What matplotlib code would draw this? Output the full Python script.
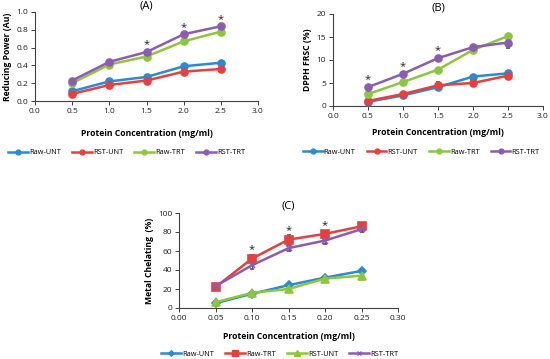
import matplotlib.pyplot as plt
from matplotlib.lines import Line2D

plt.rcParams['font.family'] = ['Open Sans', 'DejaVu Sans']

# panel A: reducing power
conc_ab = [0.5, 1.0, 1.5, 2.0, 2.5]
a_raw_unt = [0.11, 0.22, 0.27, 0.39, 0.43]
a_rst_unt = [0.08, 0.18, 0.23, 0.33, 0.36]
a_raw_trt = [0.20, 0.41, 0.50, 0.67, 0.78]
a_rst_trt = [0.23, 0.44, 0.55, 0.75, 0.84]
a_err_raw_unt = [0.01, 0.01, 0.01, 0.01, 0.01]
a_err_rst_unt = [0.01, 0.01, 0.01, 0.01, 0.03]
a_err_raw_trt = [0.01, 0.01, 0.01, 0.01, 0.01]
a_err_rst_trt = [0.01, 0.01, 0.01, 0.01, 0.01]
a_star_x = [1.5, 2.0, 2.5]
a_star_y = [0.63, 0.83, 0.92]

# panel B: DPPH FRSC
b_raw_unt = [0.9, 2.3, 4.1, 6.4, 7.1]
b_rst_unt = [1.1, 2.6, 4.5, 5.0, 6.6]
b_raw_trt = [2.6, 5.2, 7.9, 12.2, 15.2]
b_rst_trt = [4.1, 7.0, 10.4, 12.8, 13.8]
b_err_raw_unt = [0.2, 0.2, 0.4, 0.3, 0.3]
b_err_rst_unt = [0.3, 0.3, 0.8, 0.3, 0.5]
b_err_raw_trt = [0.8, 0.3, 0.3, 0.6, 0.3]
b_err_rst_trt = [0.3, 0.3, 0.3, 0.4, 1.2]
b_star_x = [0.5, 1.0, 1.5]
b_star_y = [5.7, 8.6, 12.0]

# panel C: metal chelating
conc_c = [0.05, 0.10, 0.15, 0.20, 0.25]
c_raw_unt = [5, 15, 24, 32, 39]
c_raw_trt = [22, 52, 72, 78, 86]
c_rst_unt = [6, 16, 20, 31, 34]
c_rst_trt = [23, 45, 63, 71, 83]
c_err_raw_unt = [1, 1, 1, 1, 2]
c_err_raw_trt = [2, 4, 5, 3, 2]
c_err_rst_unt = [1, 1, 1, 1, 1]
c_err_rst_trt = [1, 4, 3, 4, 3]
c_star_x = [0.10, 0.15, 0.20]
c_star_y = [61, 81, 87]

blue = '#2A8AD2'
red = '#E5403F'
green = '#8CC63E'
purple = '#8B5CB0'


def style_axes(ax):
    ax.spines['top'].set_visible(False)
    ax.spines['right'].set_visible(False)
    for s in ['left', 'bottom']:
        ax.spines[s].set_color('#404040')
        ax.spines[s].set_linewidth(0.8)
    ax.tick_params(labelsize=6, length=3, width=0.7, colors='#404040',
                   labelcolor='#202020', pad=2)


def draw_series(ax, x, y, err, color, marker, ms=5):
    ax.errorbar(x, y, yerr=err, color=color, marker=marker, ms=ms, lw=1.8,
                ecolor='#555555', elinewidth=0.7, capsize=1.5, capthick=0.7,
                mew=1.2, zorder=3)
    # legend handle: line + smaller marker, no error bar
    return Line2D([], [], color=color, marker=marker, ms=ms * 0.7, lw=1.8, mew=1.0)


def add_legend(ax, handles, labels, cx, cy):
    ax.legend(handles, labels, loc='center', bbox_to_anchor=(cx, cy), ncol=4,
              frameon=False, fontsize=5.3, handlelength=2.7, columnspacing=1.5,
              handletextpad=0.15, borderaxespad=0, borderpad=0)


fig = plt.figure(figsize=(5.5, 3.59), dpi=100)
labels_ab = ['Raw-UNT', 'RST-UNT', 'Raw-TRT', 'RST-TRT']

# (A)
axA = fig.add_axes([35/550, 1-101/359, 223/550, 89/359])
style_axes(axA)
h = [draw_series(axA, conc_ab, a_raw_unt, a_err_raw_unt, blue, 'o'),
     draw_series(axA, conc_ab, a_rst_unt, a_err_rst_unt, red, 'o'),
     draw_series(axA, conc_ab, a_raw_trt, a_err_raw_trt, green, 'o'),
     draw_series(axA, conc_ab, a_rst_trt, a_err_rst_trt, purple, 'o')]
for x, y in zip(a_star_x, a_star_y):
    axA.text(x, y, '*', ha='center', va='center', fontsize=8, color='#202020')
axA.set_xlim(0, 3.0)
axA.set_ylim(0, 1.0)
axA.set_xticks([0.0, 0.5, 1.0, 1.5, 2.0, 2.5, 3.0])
axA.set_xticklabels(['0.0', '0.5', '1.0', '1.5', '2.0', '2.5', '3.0'])
axA.set_yticks([0.0, 0.2, 0.4, 0.6, 0.8, 1.0])
axA.set_yticklabels(['0.0', '0.2', '0.4', '0.6', '0.8', '1.0'])
axA.set_ylabel('Reducing Power (Au)', fontsize=6.2, fontweight='bold', labelpad=3)
axA.set_xlabel('Protein Concentration (mg/ml)', fontsize=6.2, fontweight='bold', labelpad=10)
axA.set_title('(A)', fontsize=8, pad=2)
add_legend(axA, h, labels_ab, 0.41, -0.58)

# (B)
axB = fig.add_axes([333/550, 1-106/359, 210/550, 92/359])
style_axes(axB)
h = [draw_series(axB, conc_ab, b_raw_unt, b_err_raw_unt, blue, 'o'),
     draw_series(axB, conc_ab, b_rst_unt, b_err_rst_unt, red, 'o'),
     draw_series(axB, conc_ab, b_raw_trt, b_err_raw_trt, green, 'o'),
     draw_series(axB, conc_ab, b_rst_trt, b_err_rst_trt, purple, 'o')]
for x, y in zip(b_star_x, b_star_y):
    axB.text(x, y, '*', ha='center', va='center', fontsize=8, color='#202020')
axB.set_xlim(0, 3.0)
axB.set_ylim(0, 20)
axB.set_xticks([0.0, 0.5, 1.0, 1.5, 2.0, 2.5, 3.0])
axB.set_xticklabels(['0.0', '0.5', '1.0', '1.5', '2.0', '2.5', '3.0'])
axB.set_yticks([0, 5, 10, 15, 20])
axB.set_ylabel('DPPH FRSC (%)', fontsize=6.2, fontweight='bold', labelpad=3)
axB.set_xlabel('Protein Concentration (mg/ml)', fontsize=6.2, fontweight='bold', labelpad=6)
axB.set_title('(B)', fontsize=8, pad=1)
add_legend(axB, h, labels_ab, 0.42, -0.50)

# (C)
axC = fig.add_axes([179/550, 1-308/359, 219/550, 95/359])
style_axes(axC)
h = [draw_series(axC, conc_c, c_raw_unt, c_err_raw_unt, blue, 'D', ms=4),
     draw_series(axC, conc_c, c_raw_trt, c_err_raw_trt, red, 's', ms=6),
     draw_series(axC, conc_c, c_rst_unt, c_err_rst_unt, green, '^', ms=6),
     draw_series(axC, conc_c, c_rst_trt, c_err_rst_trt, purple, 'x', ms=5)]
for x, y in zip(c_star_x, c_star_y):
    axC.text(x, y, '*', ha='center', va='center', fontsize=8, color='#202020')
axC.set_xlim(0, 0.30)
axC.set_ylim(0, 100)
axC.set_xticks([0.0, 0.05, 0.10, 0.15, 0.20, 0.25, 0.30])
axC.set_xticklabels(['0.00', '0.05', '0.10', '0.15', '0.20', '0.25', '0.30'])
axC.set_yticks([0, 20, 40, 60, 80, 100])
axC.set_ylabel('Metal Chelating  (%)', fontsize=6.2, fontweight='bold', labelpad=3)
axC.set_xlabel('Protein Concentration (mg/ml)', fontsize=6.2, fontweight='bold', labelpad=7)
axC.set_title('(C)', fontsize=8, pad=3)
add_legend(axC, h, ['Raw-UNT', 'Raw-TRT', 'RST-UNT', 'RST-TRT'], 0.46, -0.485)

fig.savefig('out.png', dpi=100)
